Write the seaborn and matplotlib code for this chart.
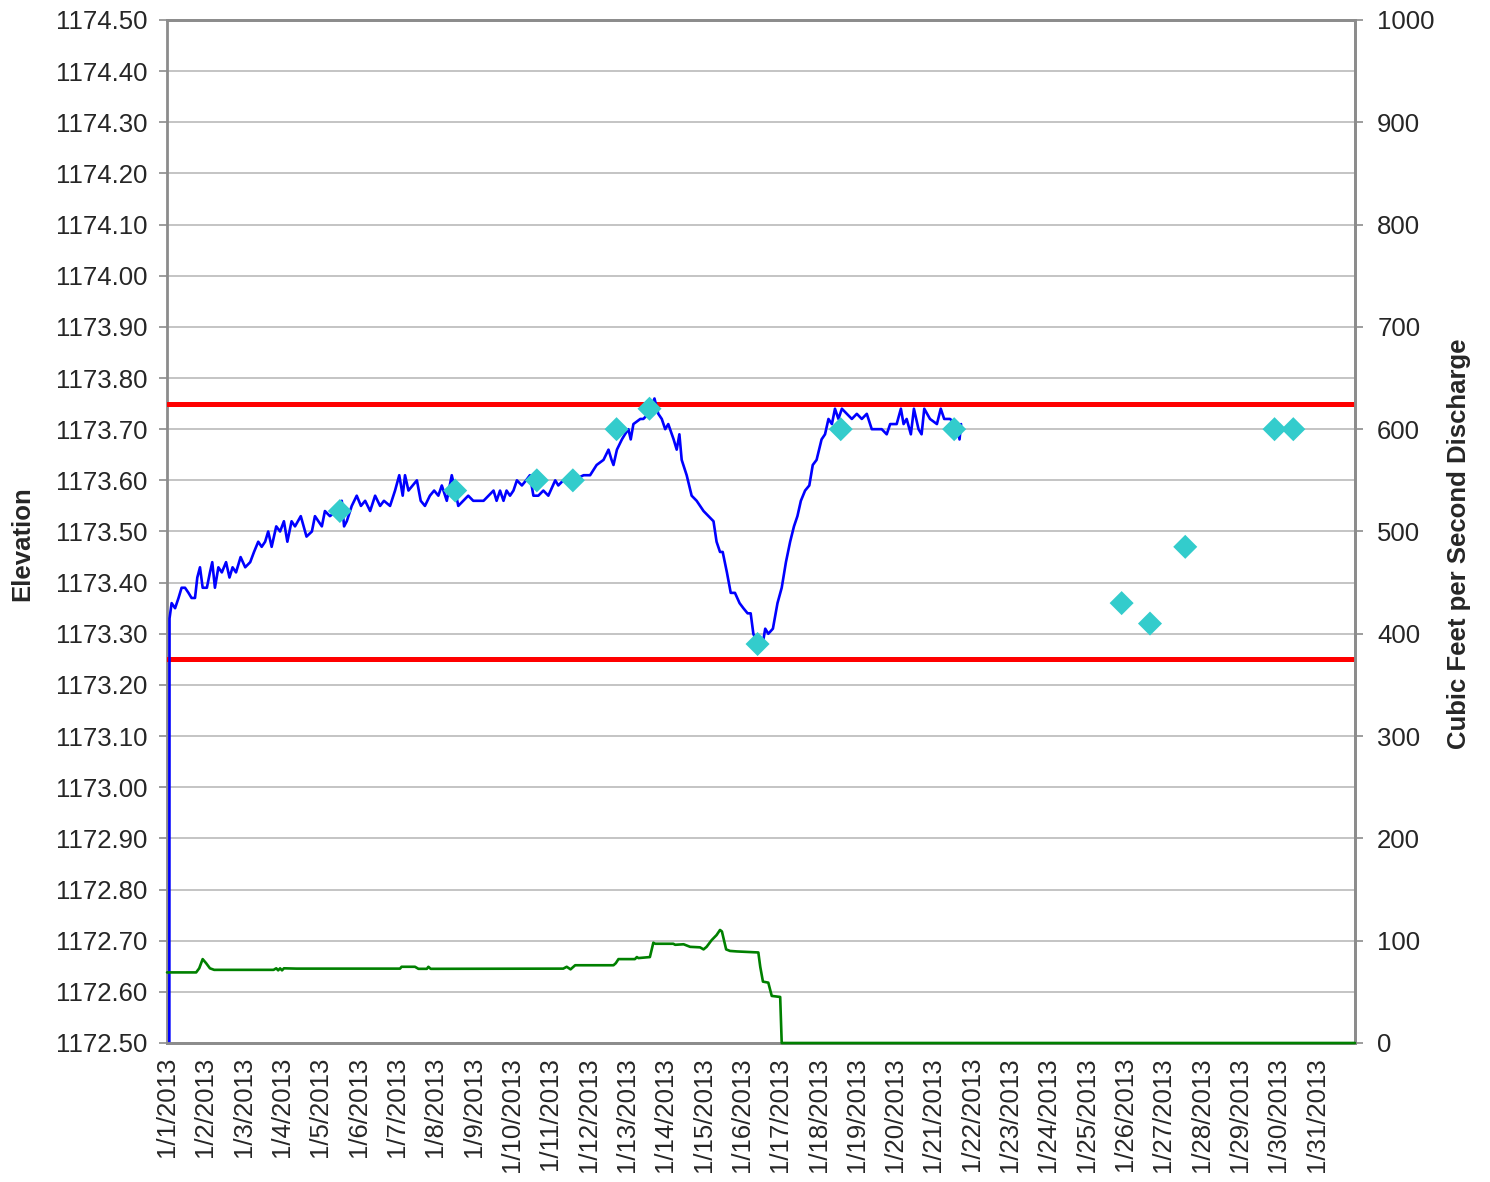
import numpy as np
import pandas as pd
import matplotlib
matplotlib.use("Agg")
import matplotlib.pyplot as plt
import seaborn as sns

# --- data ---
# continuous lake elevation (ft), day of month (fractional)
elev_day = [
    1.06, 1.065, 1.12, 1.21, 1.30, 1.38, 1.47, 1.56, 1.64, 1.73, 1.79, 1.86, 1.93,
    2.04, 2.12, 2.18, 2.25, 2.34, 2.43, 2.54, 2.63, 2.71, 2.80, 2.92,
    3.04, 3.17, 3.27, 3.38, 3.47, 3.56, 3.64, 3.73, 3.85, 3.95,
    4.05, 4.14, 4.25, 4.34, 4.49, 4.64, 4.78, 4.86,
    5.04, 5.12, 5.25, 5.43, 5.56, 5.62, 5.69, 5.82, 5.95,
    6.06, 6.17, 6.30, 6.43, 6.56, 6.66, 6.82, 6.95,
    7.06, 7.15, 7.21, 7.30, 7.52, 7.62, 7.73, 7.86, 7.97,
    8.08, 8.17, 8.30, 8.43, 8.52, 8.60, 8.73, 8.86, 8.99,
    9.12, 9.26, 9.39, 9.52, 9.60, 9.69, 9.78, 9.86, 9.95,
    10.04, 10.13, 10.26, 10.37, 10.47, 10.56, 10.69, 10.82, 10.95,
    11.13, 11.21, 11.34, 11.60, 11.87,
    12.04, 12.21, 12.39, 12.52, 12.60, 12.65, 12.74, 12.87, 12.95,
    13.04, 13.10, 13.17, 13.35, 13.43, 13.56, 13.72, 13.82, 13.91,
    14.00, 14.08, 14.22, 14.30, 14.37, 14.43, 14.56, 14.69, 14.82,
    15.00, 15.13, 15.26, 15.34, 15.43, 15.50, 15.61, 15.71, 15.82, 15.94,
    16.04, 16.15, 16.23, 16.30, 16.41, 16.52, 16.61, 16.69, 16.81, 16.93,
    17.04, 17.15, 17.26, 17.36, 17.45, 17.54, 17.65, 17.76, 17.85, 17.95,
    18.08, 18.17, 18.26, 18.35, 18.43, 18.52, 18.61, 18.74, 18.87,
    19.00, 19.13, 19.26, 19.39, 19.52, 19.65, 19.78, 19.87,
    20.04, 20.15, 20.22, 20.30, 20.41, 20.49, 20.61, 20.69, 20.76, 20.91,
    21.09, 21.19, 21.28, 21.43, 21.61, 21.68, 21.72,
]
elev_ft = [
    1172.45, 1173.33, 1173.36, 1173.35, 1173.37, 1173.39, 1173.39, 1173.38, 1173.37, 1173.37, 1173.41, 1173.43, 1173.39,
    1173.39, 1173.42, 1173.44, 1173.39, 1173.43, 1173.42, 1173.44, 1173.41, 1173.43, 1173.42, 1173.45,
    1173.43, 1173.44, 1173.46, 1173.48, 1173.47, 1173.48, 1173.50, 1173.47, 1173.51, 1173.50,
    1173.52, 1173.48, 1173.52, 1173.51, 1173.53, 1173.49, 1173.50, 1173.53,
    1173.51, 1173.54, 1173.53, 1173.54, 1173.56, 1173.51, 1173.52, 1173.55, 1173.57,
    1173.55, 1173.56, 1173.54, 1173.57, 1173.55, 1173.56, 1173.55, 1173.58,
    1173.61, 1173.57, 1173.61, 1173.58, 1173.60, 1173.56, 1173.55, 1173.57, 1173.58,
    1173.57, 1173.59, 1173.56, 1173.61, 1173.58, 1173.55, 1173.56, 1173.57, 1173.56,
    1173.56, 1173.56, 1173.57, 1173.58, 1173.56, 1173.58, 1173.56, 1173.58, 1173.57,
    1173.58, 1173.60, 1173.59, 1173.60, 1173.61, 1173.57, 1173.57, 1173.58, 1173.57,
    1173.60, 1173.59, 1173.60, 1173.60, 1173.61,
    1173.61, 1173.63, 1173.64, 1173.66, 1173.64, 1173.63, 1173.66, 1173.68, 1173.69,
    1173.70, 1173.68, 1173.71, 1173.72, 1173.72, 1173.73, 1173.76, 1173.73, 1173.72,
    1173.70, 1173.71, 1173.68, 1173.66, 1173.69, 1173.64, 1173.61, 1173.57, 1173.56,
    1173.54, 1173.53, 1173.52, 1173.48, 1173.46, 1173.46, 1173.42, 1173.38, 1173.38, 1173.36,
    1173.35, 1173.34, 1173.34, 1173.30, 1173.28, 1173.27, 1173.31, 1173.30, 1173.31, 1173.36,
    1173.39, 1173.44, 1173.48, 1173.51, 1173.53, 1173.56, 1173.58, 1173.59, 1173.63, 1173.64,
    1173.68, 1173.69, 1173.72, 1173.71, 1173.74, 1173.72, 1173.74, 1173.73, 1173.72,
    1173.73, 1173.72, 1173.73, 1173.70, 1173.70, 1173.70, 1173.69, 1173.71,
    1173.71, 1173.74, 1173.71, 1173.72, 1173.69, 1173.74, 1173.70, 1173.69, 1173.74, 1173.72,
    1173.71, 1173.74, 1173.72, 1173.72, 1173.71, 1173.68, 1173.71,
]

# manual staff gage readings (ft)
meas_day = [5.51, 8.52, 10.65, 11.59, 12.73, 13.59, 16.41, 18.58, 21.54,
            25.91, 26.65, 27.57, 29.90, 30.39]
meas_ft = [1173.54, 1173.58, 1173.60, 1173.60, 1173.70, 1173.74, 1173.28, 1173.70, 1173.70,
           1173.36, 1173.32, 1173.47, 1173.70, 1173.70]

# discharge (cfs), right axis
flow_day = [1.00, 1.76, 1.84, 1.93, 2.02, 2.12, 2.23, 3.78, 3.85, 3.90, 3.95, 4.00, 4.05,
            4.38, 7.08, 7.12, 7.47, 7.56, 7.78, 7.82, 7.88, 11.34, 11.43, 11.53, 11.65,
            12.65, 12.71, 12.78, 13.21, 13.26, 13.30, 13.60, 13.69, 13.74, 14.21, 14.26,
            14.48, 14.65, 14.91, 15.00, 15.08, 15.21, 15.34, 15.43, 15.48, 15.59, 15.69,
            15.87, 16.43, 16.48, 16.55, 16.69, 16.78, 17.00, 17.04, 32.00]
flow_cfs = [69, 69, 73, 82, 78, 73, 71.5, 71.5, 73, 71, 73, 71, 73,
            72.7, 72.7, 74.5, 74.5, 72.5, 72.5, 74.5, 72.5, 72.7, 74.5, 72, 76,
            76, 78, 82, 82, 84, 83, 84, 98, 97, 97, 96,
            96.5, 94, 93.5, 91.5, 94, 100.5, 105.5, 110.5, 109, 91.5, 90,
            89.5, 88.5, 74.5, 60, 59, 46, 45, 0, 0]

# operating band limits (ft)
band_limits = [1173.75, 1173.25]

start = pd.Timestamp("2013-01-01")


def to_time(days):
    return start + pd.to_timedelta(np.asarray(days) - 1, unit="D")


elev = pd.DataFrame({"time": to_time(elev_day), "elev": elev_ft})
meas = pd.DataFrame({"time": to_time(meas_day), "elev": meas_ft})
flow = pd.DataFrame({"time": to_time(flow_day), "cfs": flow_cfs})

sns.set_style("white")
plt.rcParams["font.family"] = ["Liberation Sans", "DejaVu Sans"]

fig, ax = plt.subplots(figsize=(14.9, 11.82), dpi=100)
fig.subplots_adjust(left=0.1121, right=0.9094, top=0.9831, bottom=0.1176)

grid_c = "#b4b4b4"
spine_c = "#8c8c8c"

for lim in band_limits:
    ax.axhline(lim, color="#ff0000", lw=3.6, zorder=3)

sns.lineplot(data=elev, x="time", y="elev", ax=ax, color="#0000ff", lw=1.9,
             sort=False, estimator=None, zorder=4)
sns.scatterplot(data=meas, x="time", y="elev", ax=ax, color="#33cccc", marker="D",
                s=150, edgecolor="none", zorder=5)

ax.set_ylim(1172.5, 1174.5)
ax.set_yticks(np.round(np.arange(1172.5, 1174.51, 0.1), 2))
ax.yaxis.set_major_formatter(matplotlib.ticker.FormatStrFormatter("%.2f"))
ax.grid(axis="y", color=grid_c, lw=1.1)
ax.set_axisbelow(True)

days = pd.date_range("2013-01-01", "2013-01-31", freq="D")
ax.set_xlim(start, pd.Timestamp("2013-02-01"))
ax.set_xticks(days)
ax.set_xticklabels([f"{d.month}/{d.day}/{d.year}" for d in days], rotation=90)
ax.tick_params(axis="x", length=0, pad=10, labelsize=18.5)
ax.tick_params(axis="y", length=6, width=1.2, color=spine_c, pad=8, labelsize=18.5,
               left=True)
ax.set_xlabel("")
ax.set_ylabel("")

ax2 = ax.twinx()
sns.lineplot(data=flow, x="time", y="cfs", ax=ax2, color="#008000", lw=1.9,
             sort=False, estimator=None, zorder=3, clip_on=False)
ax2.set_ylim(0, 1000)
ax2.set_yticks(np.arange(0, 1001, 100))
ax2.tick_params(axis="y", length=6, width=1.2, color=spine_c, pad=10, labelsize=18.5,
                right=True)
ax2.set_ylabel("")
ax2.set_xlim(start, pd.Timestamp("2013-02-01"))

for a in (ax, ax2):
    for sp in a.spines.values():
        sp.set_color(spine_c)
        sp.set_linewidth(2)
ax2.spines["left"].set_visible(False)

fig.text(22 / 1490, 1 - 544 / 1182, "Elevation", rotation=90, ha="center",
         va="center", fontsize=18.5, weight="bold")
fig.text(1459 / 1490, 1 - 544 / 1182, "Cubic Feet per Second Discharge", rotation=90,
         ha="center", va="center", fontsize=18.5, weight="bold")

fig.savefig("out.png", dpi=100)
